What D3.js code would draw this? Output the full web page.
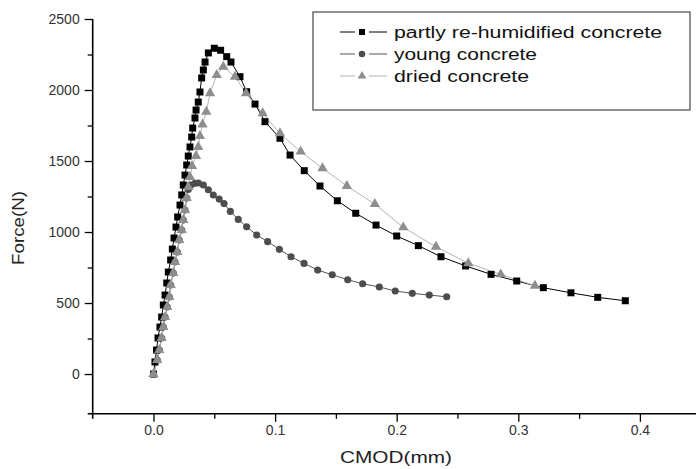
<!DOCTYPE html>
<html><head><meta charset="utf-8">
<script src="https://cdn.jsdelivr.net/npm/d3@7"></script>
<style>
body{margin:0;background:#fff}
svg{display:block}
text{font-family:"Liberation Sans",Arial,Helvetica,sans-serif}
</style>
</head><body>
<svg id="chart" width="696" height="469"></svg>
<script>
// ---- data ----
const seriesNames = ["partly re-humidified concrete", "young concrete", "dried concrete"];
const xTickValues = [0, 0.1, 0.2, 0.3, 0.4];
const yTickValues = [0, 500, 1000, 1500, 2000, 2500];
const xMinorValues = [0.05, 0.15, 0.25, 0.35];
const yMinorValues = [250, 750, 1250, 1750, 2250];

const cmodPartly = [0, 0.0012, 0.0025, 0.0037, 0.0053, 0.0067, 0.0081, 0.0095, 0.0109, 0.0122, 0.0141, 0.0155, 0.0169, 0.0185, 0.0199, 0.0218, 0.0232, 0.0245, 0.0259, 0.0273, 0.0286, 0.0300, 0.0314, 0.0322, 0.0341, 0.0350, 0.0368, 0.0382, 0.0396, 0.0410, 0.0424, 0.0451, 0.0500, 0.0552, 0.0602, 0.0637, 0.0711, 0.0766, 0.0835, 0.0917, 0.1040, 0.1123, 0.1240, 0.1369, 0.1512, 0.1663, 0.1830, 0.2000, 0.2178, 0.2364, 0.2567, 0.2776, 0.2987, 0.3206, 0.3433, 0.3653, 0.3880];
const forcePartly = [0, 85, 169, 254, 331, 401, 486, 556, 641, 718, 803, 880, 958, 1035, 1106, 1190, 1261, 1331, 1401, 1472, 1535, 1599, 1669, 1732, 1803, 1859, 1915, 1986, 2085, 2141, 2197, 2261, 2294, 2280, 2235, 2197, 2094, 1988, 1901, 1777, 1660, 1542, 1432, 1324, 1220, 1132, 1049, 972, 904, 826, 761, 702, 655, 608, 572, 540, 516];

const cmodYoung = [0, 0.0031, 0.0048, 0.0067, 0.0081, 0.0095, 0.0113, 0.0130, 0.0141, 0.0163, 0.0177, 0.0196, 0.0212, 0.0232, 0.0245, 0.0259, 0.0273, 0.0286, 0.0306, 0.0341, 0.0369, 0.0410, 0.0451, 0.0492, 0.0540, 0.0580, 0.0632, 0.0697, 0.0766, 0.0849, 0.0939, 0.1035, 0.1131, 0.1238, 0.1350, 0.1470, 0.1597, 0.1720, 0.1857, 0.1988, 0.2128, 0.2268, 0.2411];
const forceYoung = [0, 99, 169, 254, 331, 401, 472, 542, 627, 711, 789, 859, 944, 1014, 1085, 1155, 1239, 1300, 1330, 1343, 1345, 1331, 1298, 1261, 1232, 1200, 1145, 1089, 1037, 979, 932, 878, 826, 779, 732, 699, 664, 636, 613, 585, 568, 556, 544];

const cmodDried = [0, 0.0031, 0.0048, 0.0067, 0.0081, 0.0095, 0.0113, 0.0130, 0.0141, 0.0163, 0.0177, 0.0196, 0.0212, 0.0232, 0.0245, 0.0259, 0.0273, 0.0286, 0.0300, 0.0317, 0.0350, 0.0368, 0.0382, 0.0403, 0.0434, 0.0465, 0.0520, 0.0574, 0.0670, 0.0761, 0.0898, 0.1040, 0.1210, 0.1390, 0.1590, 0.1820, 0.2054, 0.2323, 0.2589, 0.2855, 0.3137];
const forceDried = [0, 99, 169, 254, 331, 401, 472, 542, 627, 711, 789, 859, 944, 1014, 1085, 1155, 1239, 1317, 1387, 1465, 1535, 1599, 1676, 1757, 1847, 1977, 2106, 2164, 2094, 1977, 1836, 1695, 1566, 1449, 1324, 1197, 1033, 896, 780, 702, 622];

// ---- chart ----
const svg = d3.select("#chart");
const x = d3.scaleLinear().domain([-0.05, 0.45]).range([92.7, 700.7]);
const y = d3.scaleLinear().domain([-280, 2500]).range([413.8, 19]);

const zip = (a, b) => a.map((v, i) => [v, b[i]]);
const series = [
  {name: seriesNames[0], data: zip(cmodPartly, forcePartly), marker: "square", fill: "#000000", line: "#000000"},
  {name: seriesNames[1], data: zip(cmodYoung, forceYoung), marker: "circle", fill: "#4d4d4d", line: "#555555"},
  {name: seriesNames[2], data: zip(cmodDried, forceDried), marker: "triangle", fill: "#8e8e8e", line: "#b4b4b4"}
];

const symbolFor = m => m === "square" ? d3.symbolSquare : m === "circle" ? d3.symbolCircle : d3.symbolTriangle;
const sizeFor = m => m === "square" ? 49 : m === "circle" ? 40 : 46;

// axes
const gx = svg.append("g").attr("transform", `translate(0,${y(-280)})`)
  .call(d3.axisBottom(x).tickValues(xTickValues).tickFormat(d3.format(".1f")).tickSize(8).tickPadding(3));
const gxm = svg.append("g").attr("transform", `translate(0,${y(-280)})`)
  .call(d3.axisBottom(x).tickValues(xMinorValues).tickFormat("").tickSize(5));
const gy = svg.append("g").attr("transform", `translate(${x(-0.05)},0)`)
  .call(d3.axisLeft(y).tickValues(yTickValues).tickFormat(d3.format("d")).tickSize(8).tickPadding(5));
const gym = svg.append("g").attr("transform", `translate(${x(-0.05)},0)`)
  .call(d3.axisLeft(y).tickValues(yMinorValues).tickFormat("").tickSize(5));
[gx, gxm, gy, gym].forEach(g => {
  g.select(".domain").remove();
  g.selectAll("line").attr("stroke", "#000").attr("stroke-width", 1.3);
  g.selectAll("text").attr("fill", "#333").style("font-size", "14px");
});
// axis lines
svg.append("line").attr("x1", x(-0.05)).attr("x2", x(-0.05)).attr("y1", y(2500)).attr("y2", y(-280) + 5)
  .attr("stroke", "#000").attr("stroke-width", 1.6);
svg.append("line").attr("x1", x(-0.05) - 5).attr("x2", 696).attr("y1", y(-280)).attr("y2", y(-280))
  .attr("stroke", "#000").attr("stroke-width", 1.6);

// axis titles
svg.append("text").attr("x", 396).attr("y", 463).attr("text-anchor", "middle")
  .style("font-size", "17px").attr("fill", "#222")
  .attr("textLength", 112).attr("lengthAdjust", "spacingAndGlyphs").text("CMOD(mm)");
svg.append("text").attr("transform", "translate(24,228) rotate(-90)").attr("text-anchor", "middle")
  .style("font-size", "17px").attr("fill", "#222")
  .attr("textLength", 74).attr("lengthAdjust", "spacingAndGlyphs").text("Force(N)");

// series lines and markers
const lineGen = d3.line().x(d => x(d[0])).y(d => y(d[1]));
series.forEach(s => {
  svg.append("path").datum(s.data).attr("d", lineGen)
    .attr("fill", "none").attr("stroke", s.line).attr("stroke-width", 1);
});
series.forEach(s => {
  svg.append("g").selectAll("path").data(s.data).join("path")
    .attr("transform", d => `translate(${x(d[0])},${y(d[1])})`)
    .attr("d", d3.symbol().type(symbolFor(s.marker)).size(sizeFor(s.marker)))
    .attr("fill", s.fill);
});

// legend
const lg = svg.append("g");
lg.append("rect").attr("x", 313).attr("y", 12).attr("width", 377).attr("height", 98)
  .attr("fill", "#fff").attr("stroke", "#555").attr("stroke-width", 1.3);
const legendWidths = [268, 143, 135];
series.forEach((s, i) => {
  const cy = 32 + i * 22;
  lg.append("line").attr("x1", 340).attr("x2", 387).attr("y1", cy).attr("y2", cy)
    .attr("stroke", s.line).attr("stroke-width", 1);
  lg.append("rect").attr("x", 355).attr("y", cy - 5).attr("width", 14).attr("height", 10).attr("fill", "#fff");
  lg.append("path").attr("transform", `translate(362,${cy})`)
    .attr("d", d3.symbol().type(symbolFor(s.marker)).size(s.marker === "square" ? 36 : 34))
    .attr("fill", s.fill);
  lg.append("text").attr("x", 394).attr("y", cy + 5.5)
    .style("font-size", "16px").attr("fill", "#111")
    .attr("textLength", legendWidths[i]).attr("lengthAdjust", "spacingAndGlyphs")
    .text(s.name);
});
</script>
</body></html>
